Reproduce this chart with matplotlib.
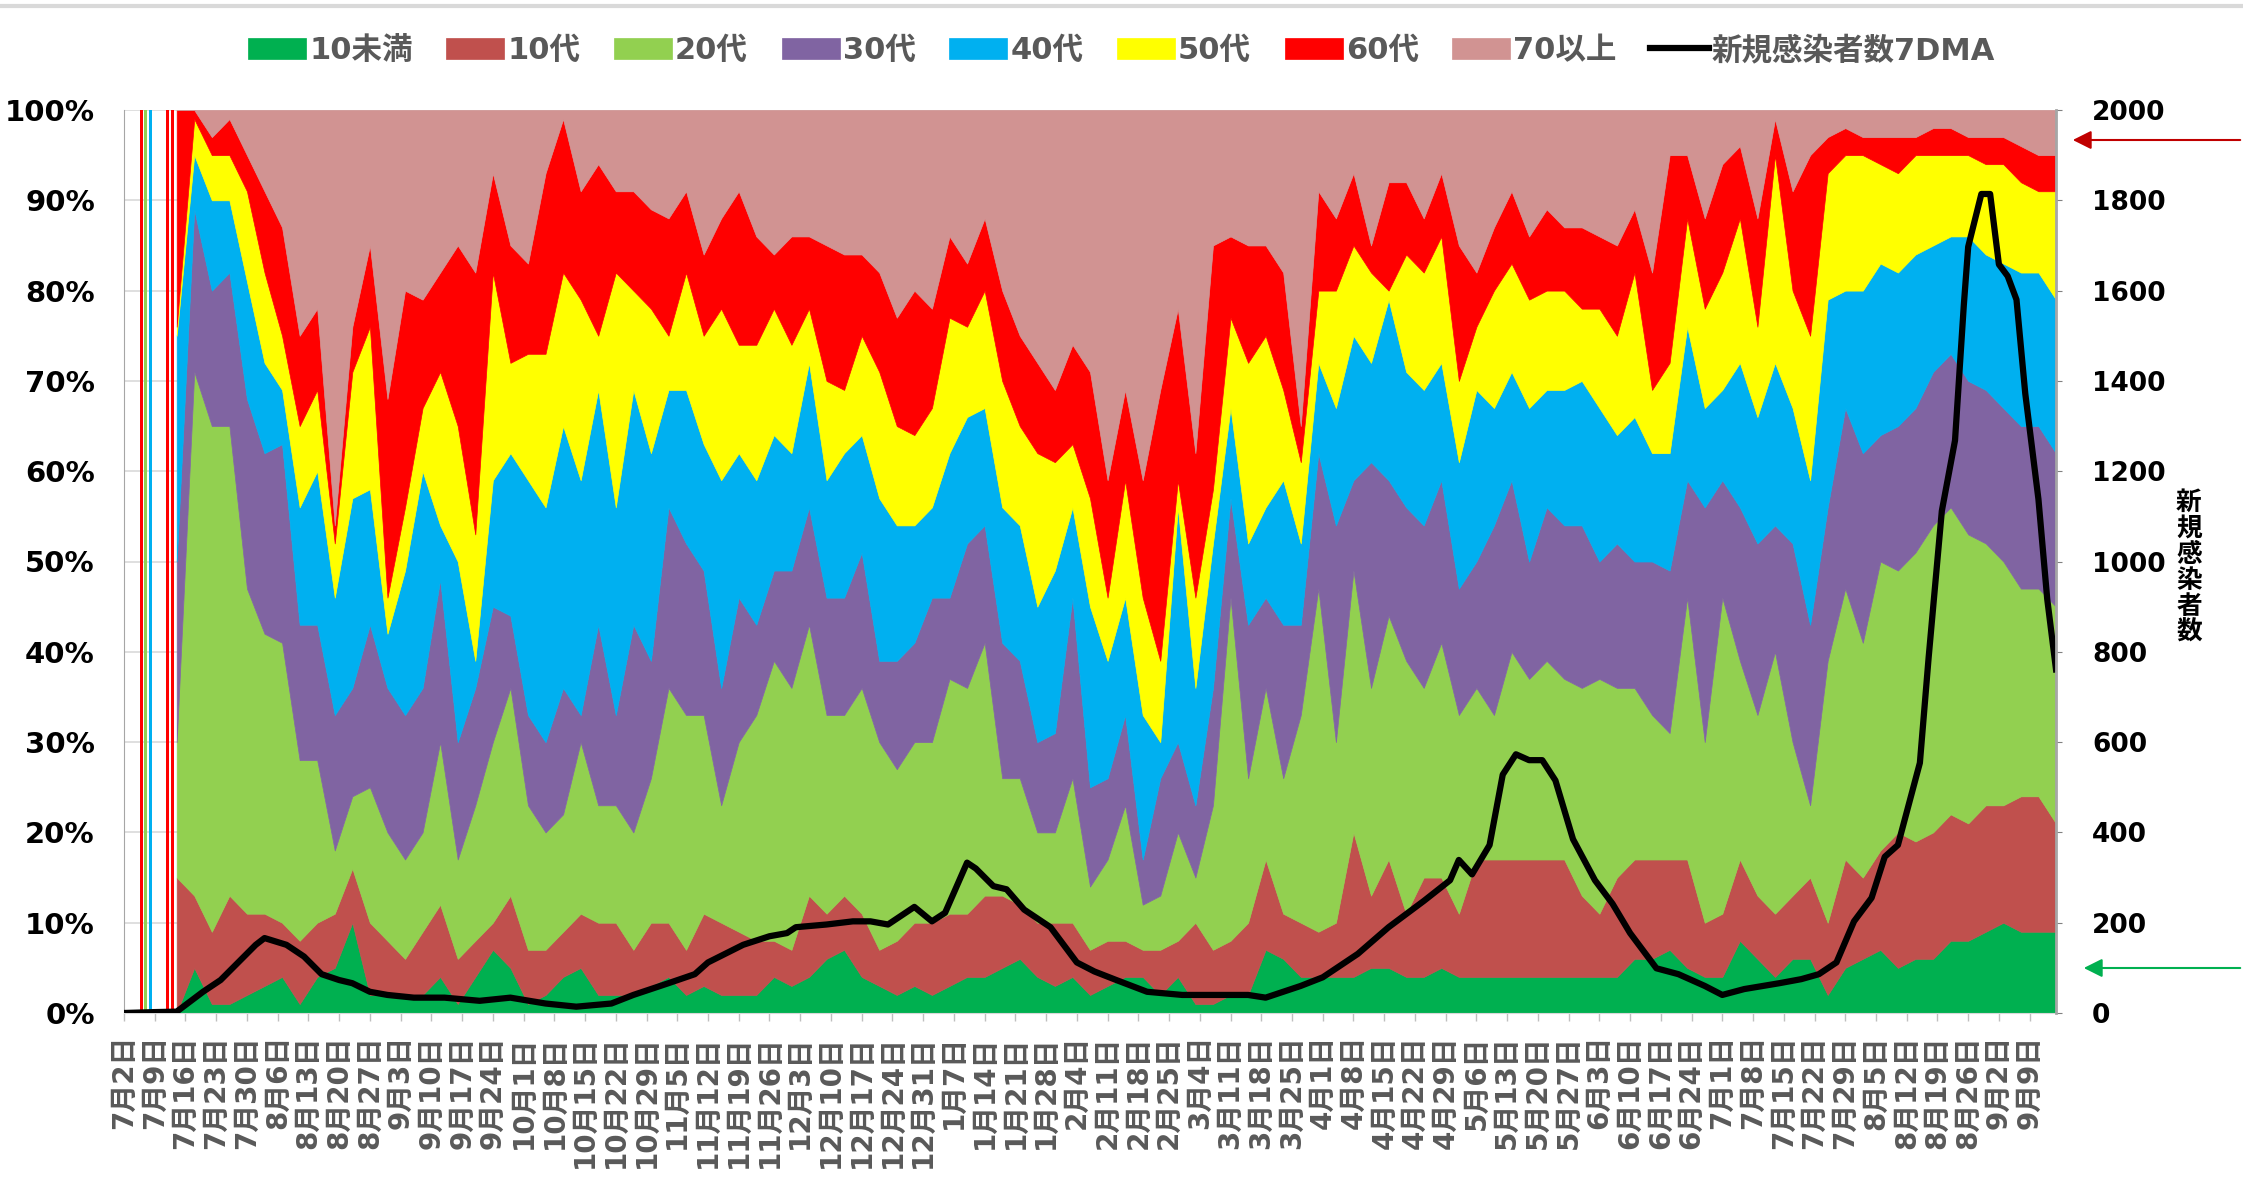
import numpy as np
import pandas as pd
import matplotlib
matplotlib.use('Agg')
import matplotlib.pyplot as plt
from matplotlib.patches import FancyArrowPatch
from matplotlib.lines import Line2D

plt.rcParams['font.family'] = ['DejaVu Sans', 'Noto Sans CJK JP']
plt.rcParams['font.weight'] = 'bold'

# days counted from 2020-07-02
start = pd.Timestamp('2020-07-02')
share_day = np.arange(12, 441, 4)

# cumulative tops (%) of each age band
top_u10 = [0, 5, 1, 1, 2, 3, 4, 1, 4, 5,
           10, 2, 2, 2, 2, 4, 1, 4, 7, 5,
           1, 2, 4, 5, 2, 2, 2, 3, 4, 2,
           3, 2, 2, 2, 4, 3, 4, 6, 7, 4,
           3, 2, 3, 2, 3, 4, 4, 5, 6, 4,
           3, 4, 2, 3, 4, 4, 2, 4, 1, 1,
           2, 2, 7, 6, 4, 4, 4, 4, 5, 5,
           4, 4, 5, 4, 4, 4, 4, 4, 4, 4,
           4, 4, 4, 6, 6, 7, 5, 4, 4, 8,
           6, 4, 6, 6, 2, 5, 6, 7, 5, 6,
           6, 8, 8, 9, 10, 9, 9, 9]
top_10s = [15, 13, 9, 13, 11, 11, 10, 8, 10, 11,
           16, 10, 8, 6, 9, 12, 6, 8, 10, 13,
           7, 7, 9, 11, 10, 10, 7, 10, 10, 7,
           11, 10, 9, 8, 8, 7, 13, 11, 13, 11,
           7, 8, 10, 10, 11, 11, 13, 13, 12, 10,
           10, 10, 7, 8, 8, 7, 7, 8, 10, 7,
           8, 10, 17, 11, 10, 9, 10, 20, 13, 17,
           11, 15, 15, 11, 17, 17, 17, 17, 17, 17,
           13, 11, 15, 17, 17, 17, 17, 10, 11, 17,
           13, 11, 13, 15, 10, 17, 15, 18, 20, 19,
           20, 22, 21, 23, 23, 24, 24, 21]
top_20s = [30, 71, 65, 65, 47, 42, 41, 28, 28, 18,
           24, 25, 20, 17, 20, 30, 17, 23, 30, 36,
           23, 20, 22, 30, 23, 23, 20, 26, 36, 33,
           33, 23, 30, 33, 39, 36, 43, 33, 33, 36,
           30, 27, 30, 30, 37, 36, 41, 26, 26, 20,
           20, 26, 14, 17, 23, 12, 13, 20, 15, 23,
           46, 26, 36, 26, 33, 47, 30, 49, 36, 44,
           39, 36, 41, 33, 36, 33, 40, 37, 39, 37,
           36, 37, 36, 36, 33, 31, 46, 30, 46, 39,
           33, 40, 30, 23, 39, 47, 41, 50, 49, 51,
           54, 56, 53, 52, 50, 47, 47, 45]
top_30s = [50, 89, 80, 82, 68, 62, 63, 43, 43, 33,
           36, 43, 36, 33, 36, 48, 30, 36, 45, 44,
           33, 30, 36, 33, 43, 33, 43, 39, 56, 52,
           49, 36, 46, 43, 49, 49, 56, 46, 46, 51,
           39, 39, 41, 46, 46, 52, 54, 41, 39, 30,
           31, 46, 25, 26, 33, 17, 26, 30, 23, 36,
           57, 43, 46, 43, 43, 62, 54, 59, 61, 59,
           56, 54, 59, 47, 50, 54, 59, 50, 56, 54,
           54, 50, 52, 50, 50, 49, 59, 56, 59, 56,
           52, 54, 52, 43, 56, 67, 62, 64, 65, 67,
           71, 73, 70, 69, 67, 65, 65, 62]
top_40s = [75, 95, 90, 90, 81, 72, 69, 56, 60, 46,
           57, 58, 42, 49, 60, 54, 50, 39, 59, 62,
           59, 56, 65, 59, 69, 56, 69, 62, 69, 69,
           63, 59, 62, 59, 64, 62, 72, 59, 62, 64,
           57, 54, 54, 56, 62, 66, 67, 56, 54, 45,
           49, 56, 45, 39, 46, 33, 30, 56, 36, 52,
           67, 52, 56, 59, 52, 72, 67, 75, 72, 79,
           71, 69, 72, 61, 69, 67, 71, 67, 69, 69,
           70, 67, 64, 66, 62, 62, 76, 67, 69, 72,
           66, 72, 67, 59, 79, 80, 80, 83, 82, 84,
           85, 86, 86, 84, 83, 82, 82, 79]
top_50s = [76, 99, 95, 95, 91, 82, 75, 65, 69, 52,
           71, 76, 46, 56, 67, 71, 65, 53, 82, 72,
           73, 73, 82, 79, 75, 82, 80, 78, 75, 82,
           75, 78, 74, 74, 78, 74, 78, 70, 69, 75,
           71, 65, 64, 67, 77, 76, 80, 70, 65, 62,
           61, 63, 57, 46, 59, 46, 39, 59, 46, 58,
           77, 72, 75, 69, 61, 80, 80, 85, 82, 80,
           84, 82, 86, 70, 76, 80, 83, 79, 80, 80,
           78, 78, 75, 82, 69, 72, 88, 78, 82, 88,
           76, 95, 80, 75, 93, 95, 95, 94, 93, 95,
           95, 95, 95, 94, 94, 92, 91, 91]
top_60s = [100, 100, 97, 99, 95, 91, 87, 75, 78, 54,
           76, 85, 68, 80, 79, 82, 85, 82, 93, 85,
           83, 93, 99, 91, 94, 91, 91, 89, 88, 91,
           84, 88, 91, 86, 84, 86, 86, 85, 84, 84,
           82, 77, 80, 78, 86, 83, 88, 80, 75, 72,
           69, 74, 71, 59, 69, 59, 69, 78, 62, 85,
           86, 85, 85, 82, 65, 91, 88, 93, 85, 92,
           92, 88, 93, 85, 82, 87, 91, 86, 89, 87,
           87, 86, 85, 89, 82, 95, 95, 88, 94, 96,
           88, 99, 91, 95, 97, 98, 97, 97, 97, 97,
           98, 98, 97, 97, 97, 96, 95, 95]

groups = ['10未満', '10代', '20代', '30代', '40代', '50代', '60代', '70以上']
colors = ['#00B050', '#C0504D', '#92D050', '#8064A2', '#00B0F0', '#FFFF00', '#FF0000', '#D19392']

# first days with only a handful of cases (one band = 100%)
early_day = [4, 5, 6, 10, 11]
early_group = [6, 2, 4, 6, 6]

# new cases, 7-day moving average
line_day = [0, 7, 12, 18, 22, 26, 30, 32, 37, 41, 45, 49, 52, 56, 60, 66, 73, 81, 88, 96,
            99, 103, 111, 116, 124, 130, 133, 141, 147, 151, 153, 160, 166, 170, 174, 180,
            184, 187, 192, 194, 198, 201, 205, 211, 217, 221, 226, 233, 241, 249, 256, 260,
            268, 273, 277, 281, 288, 296, 302, 304, 307, 311, 314, 317, 320, 323, 326, 330,
            335, 339, 343, 349, 354, 360, 364, 369, 377, 382, 386, 390, 394, 398, 401, 404,
            409, 411, 414, 417, 419, 420, 423, 425, 427, 429, 431, 433, 436, 438, 440]
line_val = [0, 2, 3, 47, 73, 112, 151, 166, 151, 125, 86, 73, 66, 47, 40, 34, 34, 27, 34, 21,
            18, 14, 21, 40, 66, 86, 112, 151, 170, 177, 190, 196, 203, 203, 196, 235,
            203, 222, 333, 320, 281, 274, 229, 190, 112, 92, 73, 47, 40, 40, 40, 34,
            60, 79, 105, 131, 190, 248, 294, 339, 307, 372, 528, 573, 560, 560, 515, 385,
            294, 242, 177, 99, 86, 60, 40, 53, 66, 75, 86, 112, 203, 255, 346, 372,
            554, 788, 1112, 1268, 1567, 1697, 1814, 1814, 1658, 1632, 1580, 1372, 1138, 917, 761]

tick_day = np.arange(0, 435, 7)
tick_lab = [f'{d.month}月{d.day}日' for d in start + pd.to_timedelta(tick_day, unit='D')]

fig = plt.figure(figsize=(22.43, 11.89), dpi=100)
ax = fig.add_axes([124 / 2243, 1 - 1013 / 1189, 1932 / 2243, 903 / 1189])

tops = np.array([top_u10, top_10s, top_20s, top_30s, top_40s, top_50s, top_60s], dtype=float)
tops = np.maximum.accumulate(tops, axis=0)
n = len(share_day)
bounds = np.vstack([np.zeros(n), tops, np.full(n, 100.0)])

handles = []
for i in range(8):
    h = ax.fill_between(share_day, bounds[i], bounds[i + 1], color=colors[i],
                        edgecolor=colors[i], lw=0.5, label=groups[i])
    handles.append(h)

for d, g in zip(early_day, early_group):
    ax.bar(d, 100, width=0.7, color=colors[g], align='center')

ax.set_xlim(0, 440)
ax.set_ylim(0, 100)
ax.set_yticks(range(0, 101, 10))
ax.set_yticklabels([f'{v}%' for v in range(0, 101, 10)])
ax.set_xticks(tick_day)
ax.set_xticklabels(tick_lab, rotation=90, va='top', ha='center')
ax.tick_params(axis='y', length=0, pad=21, labelsize=21, labelcolor='black')
ax.tick_params(axis='x', length=6, width=1, color='#BFBFBF', labelsize=20,
               labelcolor='#595959', pad=10)
ax.yaxis.grid(True, color='#D9D9D9', lw=1.2)
ax.set_axisbelow(True)
ax.spines['top'].set_visible(False)
ax.spines['left'].set_color('#A6A6A6')
ax.spines['bottom'].set_color('#D9D9D9')
ax.spines['right'].set_visible(False)

ax2 = ax.twinx()
ln, = ax2.plot(line_day, line_val, color='black', lw=4.5, label='新規感染者数7DMA')
ax2.set_ylim(0, 2000)
ax2.set_yticks(range(0, 2001, 200))
ax2.tick_params(axis='y', length=4, color='#808080', pad=22, labelsize=19, labelcolor='black')
for s in ['top', 'left', 'bottom']:
    ax2.spines[s].set_visible(False)
ax2.spines['right'].set_color('#A6A6A6')
ax2.spines['right'].set_linewidth(2)

fig.text(2189 / 2243, 1 - 568 / 1189, '\n'.join('新規感染者数'), ha='center', va='center',
         fontsize=18.5, linespacing=1.0, fontweight='bold', color='black')

fig.legend(handles + [ln], groups + ['新規感染者数7DMA'], loc='center',
           bbox_to_anchor=(0.5, 1 - 50 / 1189), ncol=9, frameon=False, fontsize=22,
           handlelength=1.9, handleheight=0.7, handletextpad=0.1, columnspacing=1.1,
           labelcolor='#595959')

# markers on the right edge
fig.add_artist(FancyArrowPatch((1.0, 1 - 140 / 1189), (2070 / 2243, 1 - 140 / 1189),
                               transform=fig.transFigure, arrowstyle='-|>', mutation_scale=28,
                               color='#C00000', lw=1.5))
fig.add_artist(FancyArrowPatch((1.0, 1 - 968 / 1189), (2081 / 2243, 1 - 968 / 1189),
                               transform=fig.transFigure, arrowstyle='-|>', mutation_scale=28,
                               color='#00B050', lw=1.5))
fig.add_artist(Line2D([0, 1], [1 - 6 / 1189] * 2, transform=fig.transFigure,
                      color='#D9D9D9', lw=3))

fig.savefig('out.png', dpi=100)
